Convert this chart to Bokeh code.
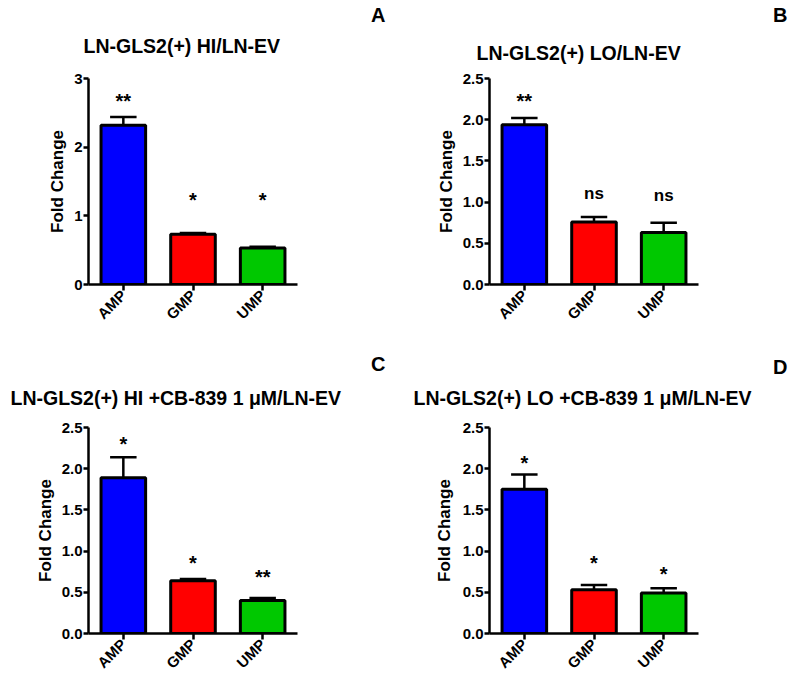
import math
from bokeh.plotting import figure
from bokeh.models import (FactorRange, Range1d, FixedTicker, Title,
                          ColumnDataSource, NumeralTickFormatter)
from bokeh.transform import dodge
from bokeh.layouts import column, row
from bokeh.embed import file_html
from bokeh.resources import INLINE
from bokeh.core.properties import value

# ---------------- data ----------------
categories = ["AMP", "GMP", "UMP"]
bar_colors = ["#0000FF", "#FF0000", "#00C800"]

title_A = "LN-GLS2(+) HI/LN-EV"
title_B = "LN-GLS2(+) LO/LN-EV"
title_C = "LN-GLS2(+) HI +CB-839 1 \u03bcM/LN-EV"
title_D = "LN-GLS2(+) LO +CB-839 1 \u03bcM/LN-EV"

mean_A = [2.32, 0.73, 0.53]
sem_A = [0.12, 0.02, 0.02]
sig_A = ["**", "*", "*"]
sig_y_A = [2.74, 1.29, 1.29]

mean_B = [1.94, 0.76, 0.63]
sem_B = [0.08, 0.06, 0.12]
sig_B = ["**", "ns", "ns"]
sig_y_B = [2.28, 1.09, 1.06]

mean_C = [1.89, 0.64, 0.40]
sem_C = [0.25, 0.02, 0.03]
sig_C = ["*", "*", "**"]
sig_y_C = [2.35, 0.91, 0.74]

mean_D = [1.75, 0.53, 0.49]
sem_D = [0.18, 0.06, 0.06]
sig_D = ["*", "*", "*"]
sig_y_D = [2.12, 0.91, 0.78]

ticks_A = [0, 1, 2, 3]
ticks_BCD = [0, 0.5, 1.0, 1.5, 2.0, 2.5]

FONT = "Liberation Sans"


def panel(title, letter, means, sems, sigs, sig_y, ymax, ticks, fmt,
          w, h, left, top, fw, fh, title_off, title_standoff,
          letter_off, letter_standoff, ylab_standoff):
    right = w - left - fw
    bottom = h - top - fh
    p = figure(width=w, height=h, output_backend="svg", toolbar_location=None,
               x_range=FactorRange(*categories, range_padding=0),
               y_range=Range1d(0, ymax),
               min_border_left=left, min_border_right=right,
               min_border_top=top, min_border_bottom=bottom)
    p.title = None
    p.outline_line_color = None
    p.grid.visible = False
    p.background_fill_color = "white"
    p.border_fill_color = "white"

    p.add_layout(Title(text=title, align="left", offset=title_off,
                       vertical_align="bottom", text_font=FONT,
                       text_font_size="19.5px", text_font_style="bold",
                       text_color="black", standoff=title_standoff), "above")
    p.add_layout(Title(text=letter, align="right", offset=letter_off,
                       vertical_align="bottom", text_font=FONT,
                       text_font_size="20px", text_font_style="bold",
                       text_color="black", standoff=letter_standoff), "above")

    tops = [m + s for m, s in zip(means, sems)]
    offs = [4.5 if "*" in s else -1.5 for s in sigs]
    sizes = ["20px" if "*" in s else "17px" for s in sigs]
    src = ColumnDataSource(dict(cat=categories, mean=means, top=tops,
                                color=bar_colors, sig=sigs, sig_y=sig_y,
                                off=offs, fs=sizes))

    p.vbar(x="cat", top="mean", bottom=0, width=0.64, fill_color="color",
           line_color="black", line_width=3, source=src)
    p.segment(x0="cat", x1="cat", y0="mean", y1="top", line_color="black",
              line_width=2.5, source=src)
    p.segment(x0=dodge("cat", -0.19, range=p.x_range),
              x1=dodge("cat", 0.19, range=p.x_range),
              y0="top", y1="top", line_color="black", line_width=2.5,
              source=src)
    p.text(x="cat", y="sig_y", text="sig", y_offset="off", source=src,
           text_align="center", text_baseline="middle",
           text_font=value(FONT), text_font_style="bold",
           text_font_size="fs", text_color="black")

    for ax in (p.xaxis[0], p.yaxis[0]):
        ax.axis_line_width = 2.5
        ax.axis_line_color = "black"
        ax.major_tick_line_width = 2.5
        ax.major_tick_line_color = "black"
        ax.major_tick_in = 0
        ax.minor_tick_line_color = None
        ax.major_label_text_font = FONT
        ax.major_label_text_font_style = "bold"
        ax.major_label_text_color = "black"
        ax.major_label_text_font_size = "15px"

    p.xaxis.major_tick_out = 6
    p.xaxis.major_label_orientation = math.pi / 4
    p.xaxis.major_label_standoff = 2

    p.yaxis.major_tick_out = 5
    p.yaxis.major_label_standoff = 1
    p.yaxis.ticker = FixedTicker(ticks=ticks)
    p.yaxis.formatter = NumeralTickFormatter(format=fmt)
    p.yaxis.axis_label = "Fold Change"
    p.yaxis.axis_label_text_font = FONT
    p.yaxis.axis_label_text_font_style = "bold"
    p.yaxis.axis_label_text_font_size = "17px"
    p.yaxis.axis_label_text_color = "black"
    p.yaxis.axis_label_standoff = ylab_standoff
    return p


pA = panel(title_A, "A", mean_A, sem_A, sig_A, sig_y_A, 3, ticks_A, "0",
           397, 343, 88, 78, 209, 206, -5, 43.6, -88, -31, 4)
pB = panel(title_B, "B", mean_B, sem_B, sig_B, sig_y_B, 2.5, ticks_BCD, "0.0",
           397, 343, 92, 78, 209, 206, -13, 29.6, -89, -3, 4)
pC = panel(title_C, "C", mean_C, sem_C, sig_C, sig_y_C, 2.5, ticks_BCD, "0.0",
           397, 345, 88, 84, 209, 206, -78, 37.6, -88, -19, 4)
pD = panel(title_D, "D", mean_D, sem_D, sig_D, sig_y_D, 2.5, ticks_BCD, "0.0",
           397, 345, 92, 84, 209, 206, -76, 37.6, -89, -25, 6)

layout = column(row(pA, pB, spacing=0), row(pC, pD, spacing=0), spacing=0)

open("out.html", "w").write(file_html(layout, INLINE))
